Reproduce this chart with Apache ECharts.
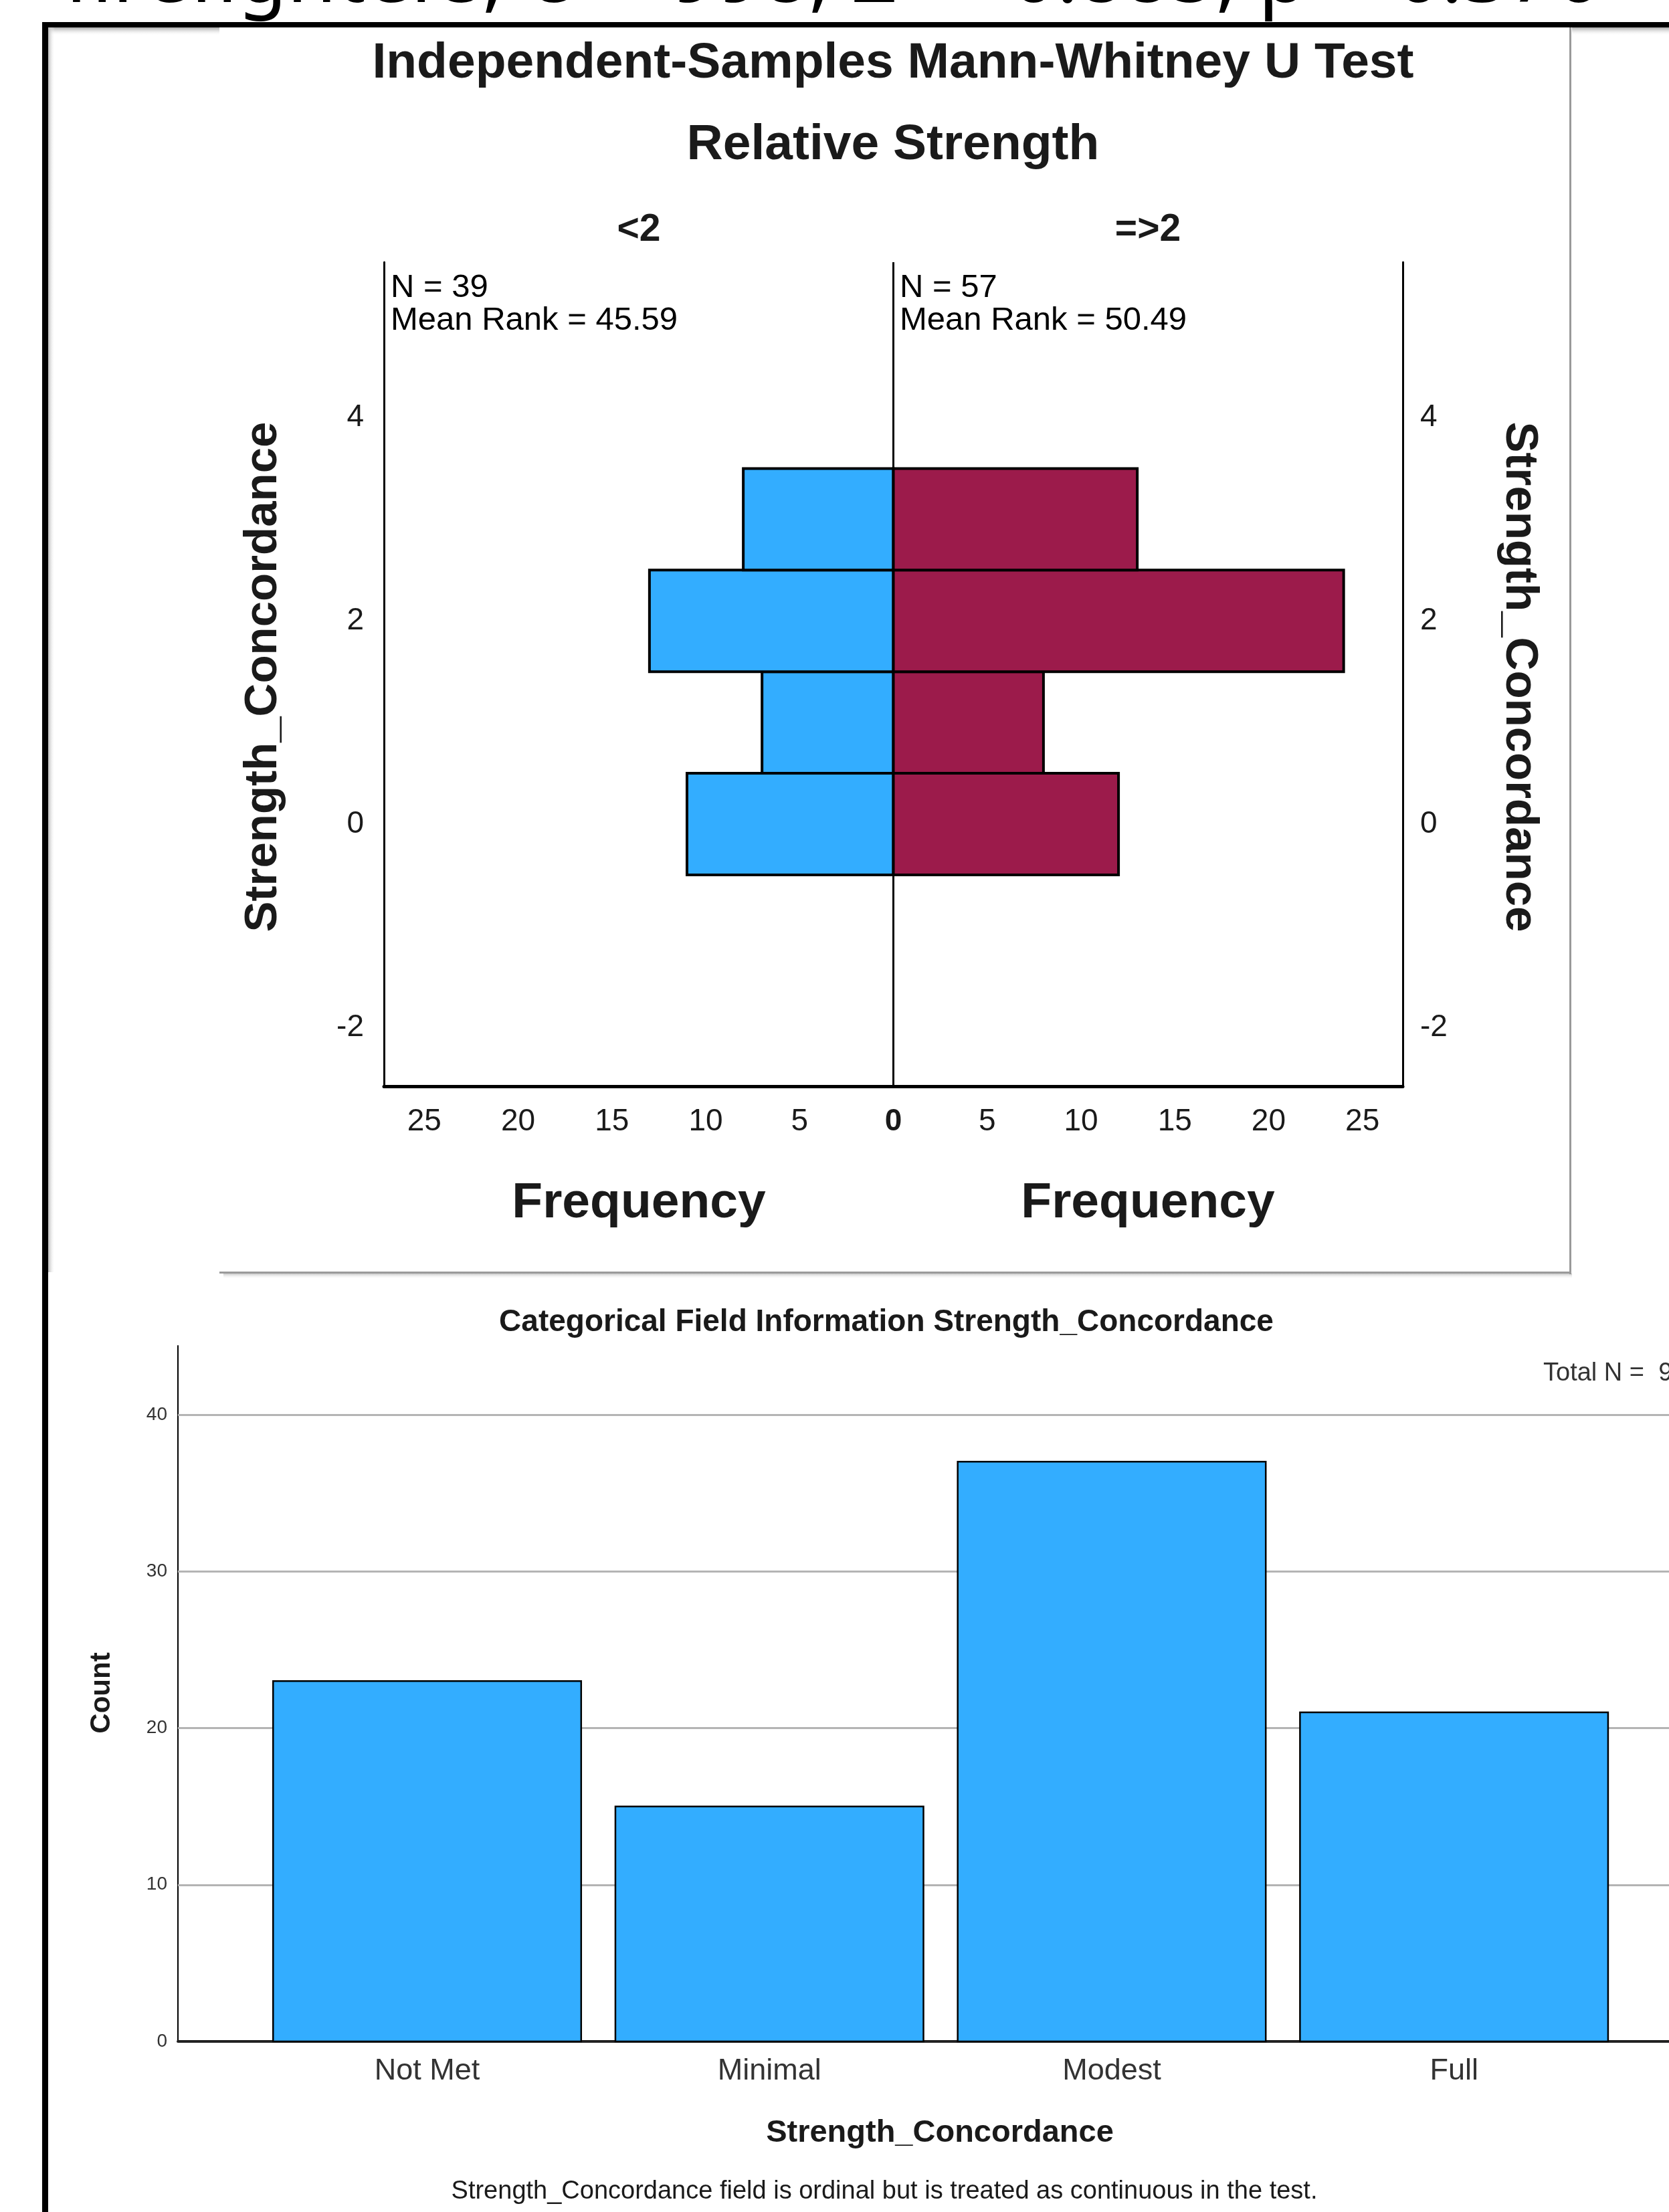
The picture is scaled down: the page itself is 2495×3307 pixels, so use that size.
<!DOCTYPE html>
<html><head><meta charset="utf-8">
<script src="https://cdn.jsdelivr.net/npm/echarts@6/dist/echarts.min.js"></script>
<style>html,body{margin:0;padding:0;background:#fff;overflow:hidden}#c{width:2495px;height:3307px}</style>
</head><body><div id="c"></div><script>
// ---------- data ----------
const testSummary = 'firefighters, U = 998, Z = -0.885, p = 0.376';
const groupLabels = ['<2', '=>2'];
const groupN = [39, 57];
const groupMeanRank = ['45.59', '50.49'];
const concordanceLevels = [0, 1, 2, 3];
const freqLow = [11, 7, 13, 8];     // group "<2"
const freqHigh = [12, 8, 24, 13];   // group "=>2"
const freqTicks = [-25, -20, -15, -10, -5, 0, 5, 10, 15, 20, 25];
const levelTicks = [-2, 0, 2, 4];
const categories = ['Not Met', 'Minimal', 'Modest', 'Full'];
const counts = [23, 15, 37, 21];
const countTicks = [0, 10, 20, 30, 40];
const totalN = 96;

// ---------- styling ----------
const FF = '"Liberation Sans", Arial, sans-serif';
const BLUE = '#33adff';
const MAROON = '#9c1b4b';
const TXT = '#1a1a1a';

function txt(x, y, text, size, opts) {
  opts = opts || {};
  return {
    type: 'text', x: x, y: y, rotation: opts.rot || 0, z: opts.z || 50,
    style: {
      text: text, fill: opts.color || TXT,
      font: (opts.bold ? 'bold ' : '') + size + 'px ' + (opts.family || FF),
      textAlign: opts.align || 'center', textVerticalAlign: 'middle'
    }
  };
}

function pyramidRect(params, api) {
  const v = api.value(0), y = api.value(1);
  const p1 = api.coord([0, y + 0.5]);
  const p2 = api.coord([v, y - 0.5]);
  return {
    type: 'rect',
    shape: { x: Math.min(p1[0], p2[0]), y: p1[1], width: Math.abs(p2[0] - p1[0]), height: p2[1] - p1[1] },
    style: { fill: api.visual('color'), stroke: '#000', lineWidth: 4 }
  };
}
function countRect(params, api) {
  const x = api.value(0), c = api.value(1);
  const p1 = api.coord([x - 0.45, c]);
  const p2 = api.coord([x + 0.45, 0]);
  return {
    type: 'rect',
    shape: { x: p1[0], y: p1[1], width: p2[0] - p1[0], height: p2[1] - p1[1] },
    style: { fill: api.visual('color'), stroke: '#000', lineWidth: 2.5 }
  };
}

const graphics = [
  // cut-off header text of the screenshot
  txt(96, -31, testSummary, 120, { align: 'left', color: '#000', family: '"Noto Sans", sans-serif', z: 1 }),
  { type: 'rect', shape: { x: 72, y: 41, width: 2423, height: 12 }, style: { fill: '#fff' }, z: 2 },
  // black frame
  { type: 'rect', shape: { x: 63, y: 33, width: 2432, height: 8 }, style: { fill: '#000' }, z: 40 },
  { type: 'rect', shape: { x: 63, y: 33, width: 9, height: 3274 }, style: { fill: '#000' }, z: 40 },
  // shadows
  { type: 'rect', shape: { x: 72, y: 41, width: 256, height: 12 }, z: 3,
    style: { fill: new echarts.graphic.LinearGradient(0, 0, 0, 1, [{ offset: 0, color: '#a8a8a8' }, { offset: 1, color: 'rgba(255,255,255,0)' }]) } },
  { type: 'rect', shape: { x: 72, y: 41, width: 10, height: 1861 }, z: 3,
    style: { fill: new echarts.graphic.LinearGradient(0, 0, 1, 0, [{ offset: 0, color: '#b8b8b8' }, { offset: 1, color: 'rgba(255,255,255,0)' }]) } },
  { type: 'rect', shape: { x: 2350, y: 41, width: 145, height: 12 }, z: 3,
    style: { fill: new echarts.graphic.LinearGradient(0, 0, 0, 1, [{ offset: 0, color: '#a8a8a8' }, { offset: 1, color: 'rgba(255,255,255,0)' }]) } },
  // top panel border
  { type: 'rect', shape: { x: 2346, y: 41, width: 3, height: 1864 }, style: { fill: '#9a9a9a' }, z: 4 },
  { type: 'rect', shape: { x: 328, y: 1901, width: 2021, height: 3 }, style: { fill: '#9a9a9a' }, z: 4 },
  { type: 'rect', shape: { x: 334, y: 1904, width: 2016, height: 8 }, z: 3,
    style: { fill: new echarts.graphic.LinearGradient(0, 0, 0, 1, [{ offset: 0, color: '#c8c8c8' }, { offset: 1, color: 'rgba(255,255,255,0)' }]) } },

  // top chart texts
  txt(1335, 95, 'Independent-Samples Mann-Whitney U Test', 75, { bold: true }),
  txt(1335, 217, 'Relative Strength', 75, { bold: true }),
  txt(955, 344, groupLabels[0], 57, { bold: true }),
  txt(1716, 344, groupLabels[1], 57, { bold: true }),
  txt(584, 430, 'N = ' + groupN[0], 49, { align: 'left', color: '#000' }),
  txt(584, 479, 'Mean Rank = ' + groupMeanRank[0], 49, { align: 'left', color: '#000' }),
  txt(1345, 430, 'N = ' + groupN[1], 49, { align: 'left', color: '#000' }),
  txt(1345, 479, 'Mean Rank = ' + groupMeanRank[1], 49, { align: 'left', color: '#000' }),
  txt(955, 1799, 'Frequency', 75, { bold: true }),
  txt(1716, 1799, 'Frequency', 75, { bold: true }),
  txt(394, 1012, 'Strength_Concordance', 69, { bold: true, rot: Math.PI / 2 }),
  txt(2271, 1012, 'Strength_Concordance', 69, { bold: true, rot: -Math.PI / 2 }),

  // bottom chart texts
  txt(1325, 1977, 'Categorical Field Information Strength_Concordance', 46, { bold: true }),
  txt(2307, 2054, 'Total N =  ' + totalN, 38, { align: 'left', color: '#333' }),
  txt(152, 2531, 'Count', 42, { bold: true, rot: Math.PI / 2 }),
  txt(1405, 3189, 'Strength_Concordance', 47, { bold: true }),
  txt(1322, 3277, 'Strength_Concordance field is ordinal but is treated as continuous in the test.', 38, {})
];

const option = {
  animation: false,
  backgroundColor: '#ffffff',
  textStyle: { fontFamily: FF },
  grid: [
    { left: 574, top: 392, width: 1523, height: 1232 },
    { left: 266, top: 2012, right: 0, height: 1040 }
  ],
  xAxis: [
    {
      gridIndex: 0, type: 'value', min: -27.15, max: 27.15,
      axisLine: { show: true, onZero: false, lineStyle: { color: '#000', width: 5 } },
      axisTick: { show: false }, splitLine: { show: false },
      axisLabel: {
        customValues: freqTicks, margin: 30, fontSize: 46, color: TXT, fontFamily: FF,
        formatter: v => v === 0 ? '{b|0}' : String(Math.abs(v)),
        rich: { b: { fontWeight: 'bold', fontSize: 46, color: TXT, fontFamily: FF } }
      }
    },
    {
      gridIndex: 1, type: 'value', min: -0.728, max: 3.628,
      axisLine: { show: true, onZero: false, lineStyle: { color: '#222', width: 4 } },
      axisTick: { show: false }, splitLine: { show: false },
      axisLabel: {
        customValues: [0, 1, 2, 3], margin: 22, fontSize: 45, color: '#333', fontFamily: FF,
        formatter: v => categories[Math.round(v)]
      }
    }
  ],
  yAxis: [
    {
      gridIndex: 0, type: 'value', min: -2.58, max: 5.53, position: 'left',
      axisLine: { show: true, onZero: false, lineStyle: { color: '#000', width: 3 } },
      axisTick: { show: false }, splitLine: { show: false },
      axisLabel: { customValues: levelTicks, margin: 30, fontSize: 46, color: TXT, fontFamily: FF }
    },
    {
      gridIndex: 0, type: 'value', min: -2.58, max: 5.53, position: 'right',
      axisLine: { show: true, onZero: false, lineStyle: { color: '#000', width: 3 } },
      axisTick: { show: false }, splitLine: { show: false },
      axisLabel: { customValues: levelTicks, margin: 26, fontSize: 46, color: TXT, fontFamily: FF }
    },
    {
      gridIndex: 1, type: 'value', min: 0, max: 44.4,
      axisLine: { show: true, onZero: false, lineStyle: { color: '#000', width: 2 } },
      axisTick: { show: false }, splitLine: { show: false },
      axisLabel: { customValues: countTicks, margin: 16, fontSize: 28, color: '#333', fontFamily: FF }
    }
  ],
  series: [
    {
      type: 'custom', name: groupLabels[0], xAxisIndex: 0, yAxisIndex: 0, z: 3,
      renderItem: pyramidRect, encode: { x: 0, y: 1 },
      itemStyle: { color: BLUE },
      data: concordanceLevels.map((lv, i) => [-freqLow[i], lv])
    },
    {
      type: 'custom', name: groupLabels[1], xAxisIndex: 0, yAxisIndex: 0, z: 3,
      renderItem: pyramidRect, encode: { x: 0, y: 1 },
      itemStyle: { color: MAROON },
      data: concordanceLevels.map((lv, i) => [freqHigh[i], lv]),
      markLine: {
        silent: true, symbol: 'none', z: 6, label: { show: false },
        lineStyle: { color: '#000', width: 3, type: 'solid' },
        data: [{ xAxis: 0 }]
      }
    },
    {
      type: 'line', xAxisIndex: 1, yAxisIndex: 2, z: 1, data: [],
      markLine: {
        silent: true, symbol: 'none', z: 1, label: { show: false },
        lineStyle: { color: '#b4b4b4', width: 3, type: 'solid' },
        data: countTicks.filter(v => v > 0).map(v => ({ yAxis: v }))
      }
    },
    {
      type: 'custom', name: 'Count', xAxisIndex: 1, yAxisIndex: 2, z: 4,
      renderItem: countRect, encode: { x: 0, y: 1 },
      itemStyle: { color: BLUE },
      data: categories.map((c, i) => [i, counts[i]])
    }
  ],
  graphic: graphics
};

const chart = echarts.init(document.getElementById('c'), null, { renderer: 'canvas', width: 2495, height: 3307 });
chart.setOption(option);
</script></body></html>
